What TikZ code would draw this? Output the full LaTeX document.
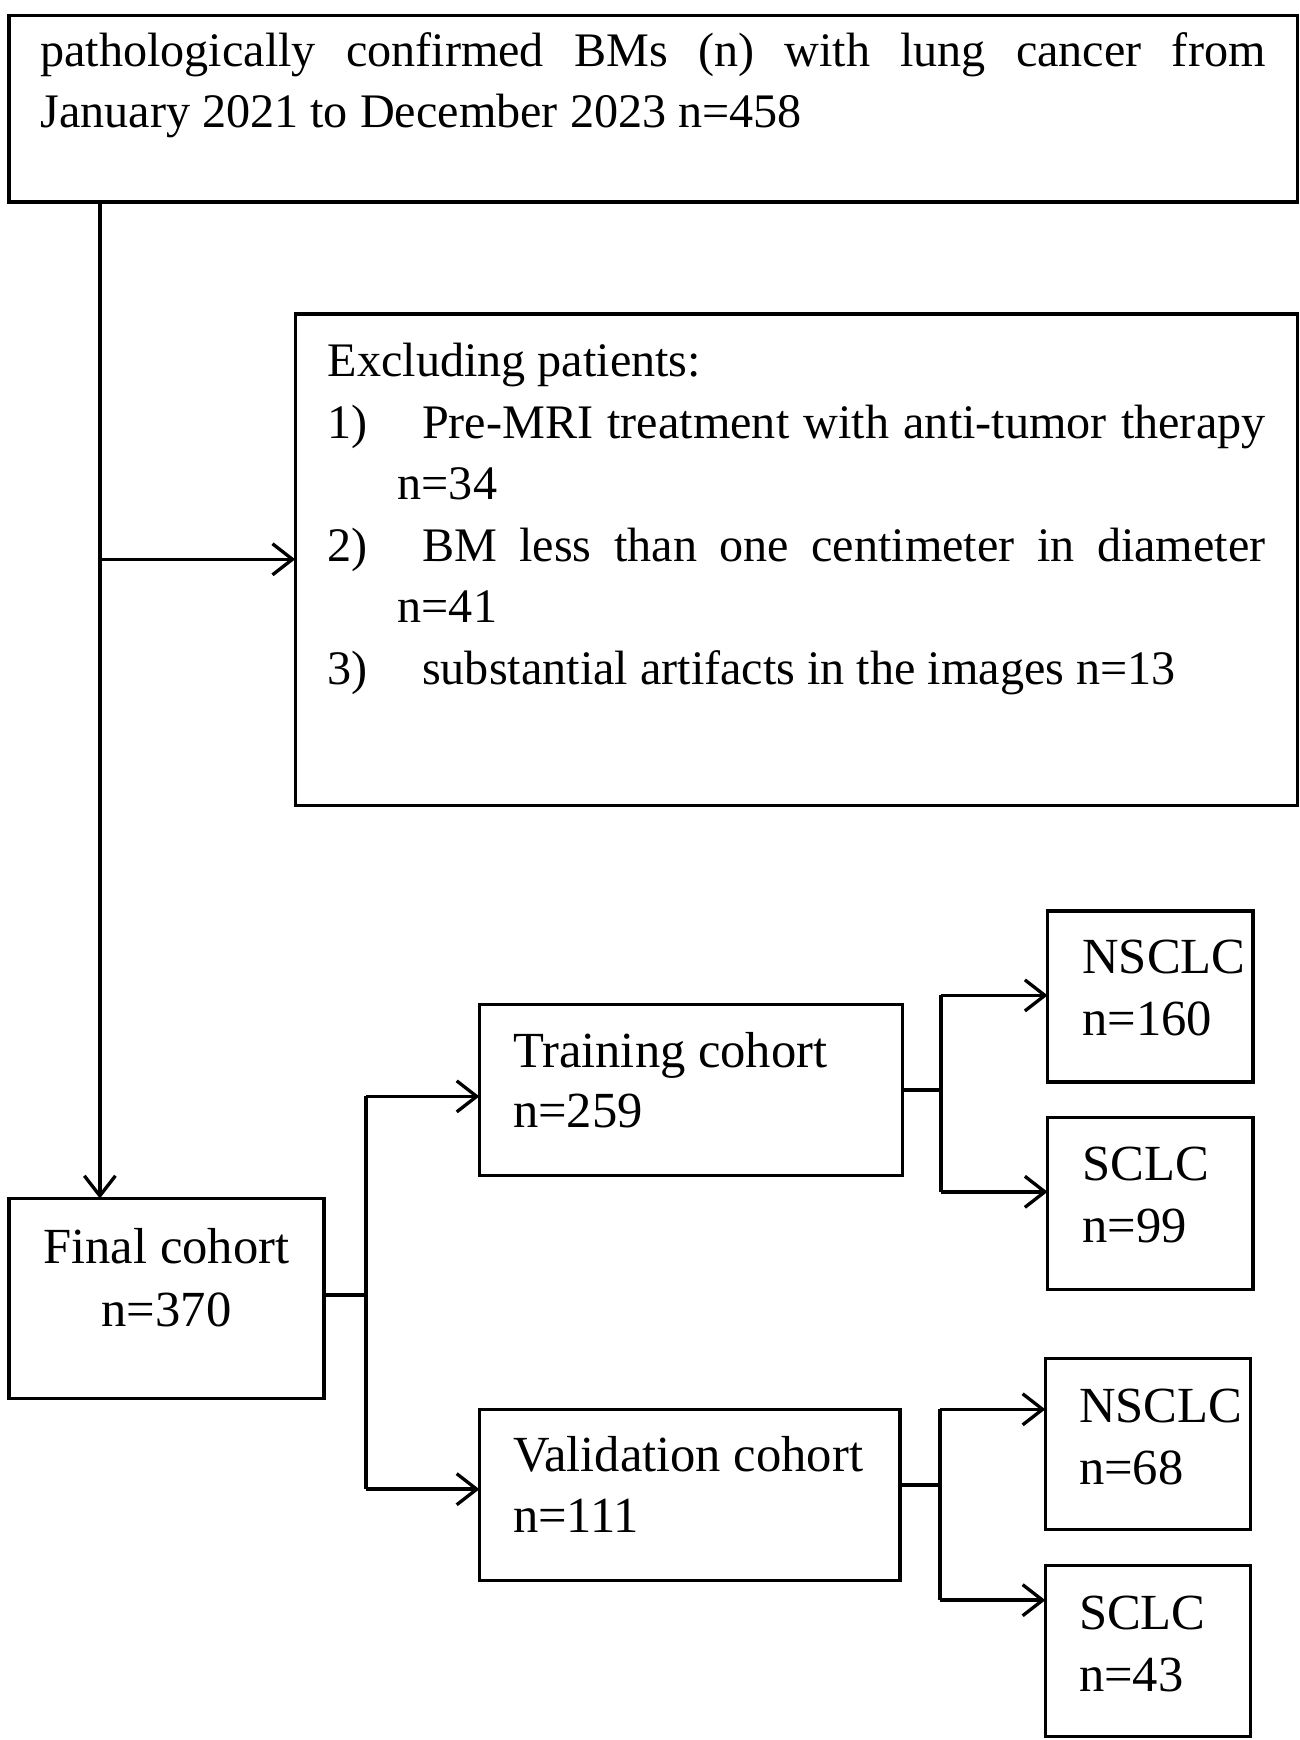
\documentclass[tikz,border=0pt]{standalone}
\usepackage{fontspec}
\setmainfont{Liberation Serif}
\usetikzlibrary{arrows.meta}
\begin{document}
\begin{tikzpicture}[x=0.5pt,y=-0.5pt,
  box/.style={draw,line width=1.5pt},
  ln/.style={line width=1.6pt},
  arr/.style={ln,-{Straight Barb[length=9pt,width=14pt,line width=1.5pt]}},
  t/.style={anchor=base west,inner sep=0pt,font=\fontsize{21.7}{26}\selectfont},
  u/.style={anchor=base west,inner sep=0pt,font=\fontsize{22.8}{27}\selectfont}]
\useasboundingbox (0,0) rectangle (1171,1568);
\draw[box] (8,14) rectangle (1169,182);
\node[t] (t1) at (36,60) {\makebox[552pt][s]{pathologically confirmed BMs (n) with lung cancer from}};
\node[t] (t2) at (36,115) {January 2021 to December 2023 n=458};
\draw[box] (266,283) rectangle (1169,726);
\node[t] (e0) at (295,339) {Excluding patients:};
\node[t] (e1) at (295,395) {1)};
\node[t] (e1a) at (380,395) {\makebox[380pt][s]{Pre-MRI treatment with anti-tumor therapy}};
\node[t] (e1b) at (358,450) {n=34};
\node[t] (e2) at (295,506) {2)};
\node[t] (e2a) at (380,506) {\makebox[380pt][s]{BM less than one centimeter in diameter}};
\node[t] (e2b) at (358,561) {n=41};
\node[t] (e3) at (295,617) {3)};
\node[t] (e3a) at (380,617) {substantial artifacts in the images n=13};
\draw[box] (8,1080) rectangle (292,1260);
\node[u,anchor=base] (f1) at (150,1139) {Final cohort};
\node[u,anchor=base] (f2) at (150,1195) {n=370};
\draw[box] (432,905) rectangle (813,1059);
\node[u] (tr1) at (462,962) {Training cohort};
\node[u] (tr2) at (462,1016) {n=259};
\draw[box] (432,1270) rectangle (811,1424);
\node[u] (v1) at (462,1326) {Validation cohort};
\node[u] (v2) at (462,1381) {n=111};
\draw[box] (944,821) rectangle (1129,975);
\node[u] (a1) at (975,877) {NSCLC};
\node[u] (a2) at (975,933) {n=160};
\draw[box] (944,1007) rectangle (1129,1162);
\node[u] (b1) at (975,1064) {SCLC};
\node[u] (b2) at (975,1120) {n=99};
\draw[box] (942,1224) rectangle (1127,1378);
\node[u] (c1) at (972,1282) {NSCLC};
\node[u] (c2) at (972,1338) {n=68};
\draw[box] (942,1411) rectangle (1127,1565);
\node[u] (d1) at (972,1468) {SCLC};
\node[u] (d2) at (972,1524) {n=43};
\coordinate (j) at (90,504);
\draw[arr] (90,182) -- (90,1080);
\draw[arr] (j) -- (266,504);
\draw[ln] (292,1167) -- (330,1167);
\draw[arr] (330,988) -- (432,988);
\draw[arr] (330,1342) -- (432,1342);
\draw[ln] (330,988) -- (330,1342);
\draw[ln] (813,982) -- (848,982);
\draw[ln] (848,897) -- (848,1074);
\draw[arr] (848,897) -- (944,897);
\draw[arr] (848,1074) -- (944,1074);
\draw[ln] (811,1338) -- (847,1338);
\draw[ln] (847,1270) -- (847,1442);
\draw[arr] (847,1270) -- (942,1270);
\draw[arr] (847,1442) -- (942,1442);
\end{tikzpicture}
\end{document}
